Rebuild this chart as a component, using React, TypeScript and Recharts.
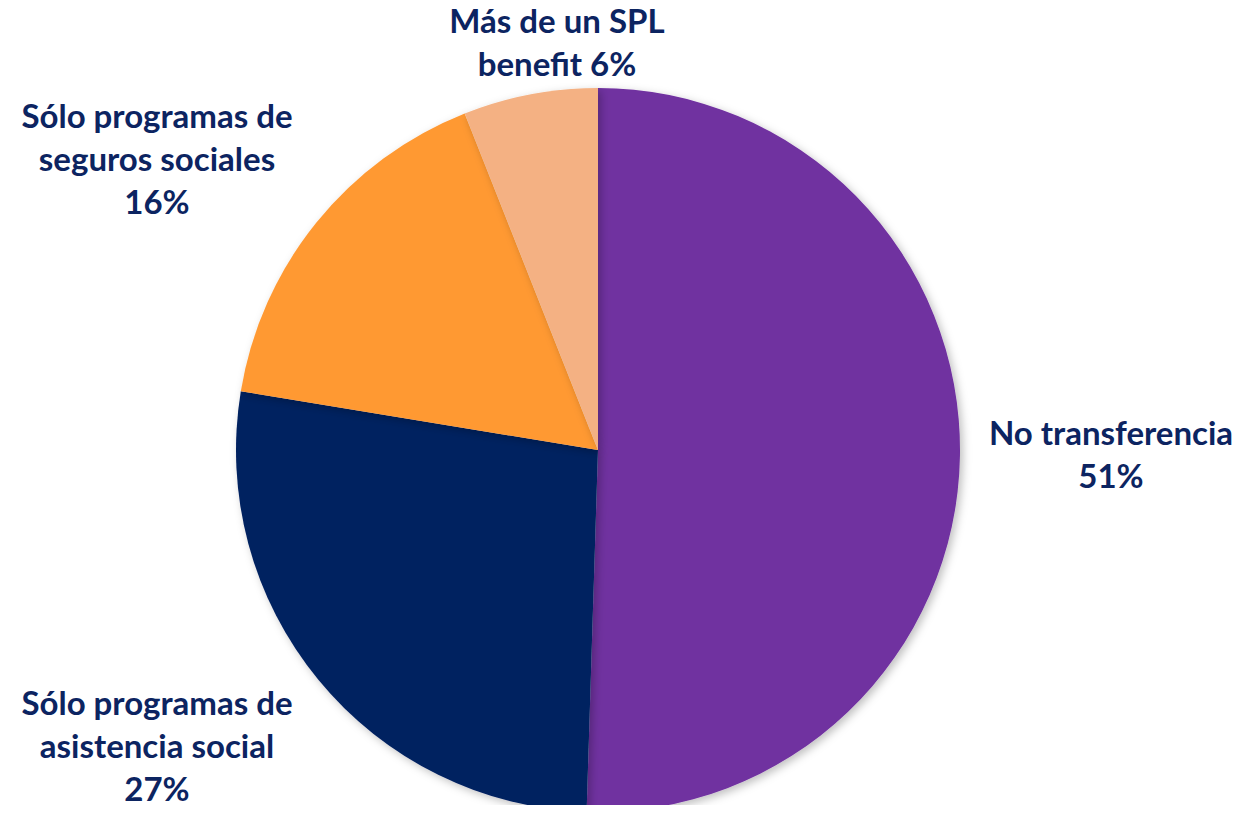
import { PieChart, Pie, Cell } from "recharts";

const categories = [
  "No transferencia",
  "Sólo programas de asistencia social",
  "Sólo programas de seguros sociales",
  "Más de un SPL benefit",
];
const shares = [50.5, 27.1, 16.4, 6.0];
const labelLines = [
  ["No transferencia", "51%"],
  ["Sólo programas de", "asistencia social", "27%"],
  ["Sólo programas de", "seguros sociales", "16%"],
  ["Más de un SPL", "benefit 6%"],
];
const colors = ["#7030A0", "#002060", "#FF9933", "#F4B183"];

// label placement relative to pie centre
const labelDx = [513, -441, -441, -41];
const labelDy = [-5, 265, -322, -417];

const data = categories.map((name, i) => ({ name, value: shares[i] }));

function renderLabel(props: any) {
  const { cx, cy, index } = props;
  const x = cx + labelDx[index];
  const y = cy + labelDy[index];
  return (
    <text
      x={x}
      y={y}
      textAnchor="middle"
      fill="#0C2461"
      fontFamily="Lato, 'Open Sans', sans-serif"
      fontWeight={700}
      fontSize={33}
    >
      {labelLines[index].map((line, j) => (
        <tspan key={j} x={x} dy={j === 0 ? 0 : 43}>
          {line}
        </tspan>
      ))}
    </text>
  );
}

export default function App() {
  return (
    <div style={{ background: "#fff", margin: -8, height: 813, overflow: "hidden" }}>
      <PieChart
        width={1259}
        height={813}
        margin={{ top: 0, right: 0, bottom: 0, left: 0 }}
        style={{ overflow: "visible" }}
      >
        <defs>
          <filter id="pieShadow" x="-30%" y="-30%" width="160%" height="160%">
            <feDropShadow dx="3" dy="3" stdDeviation="4" floodColor="#000" floodOpacity="0.25" />
          </filter>
        </defs>
        <Pie
          data={data}
          dataKey="value"
          nameKey="name"
          cx={598}
          cy={450}
          outerRadius={362}
          startAngle={90}
          endAngle={-270}
          stroke="none"
          label={renderLabel}
          labelLine={false}
          isAnimationActive={false}
          style={{ filter: "url(#pieShadow)" }}
        >
          {data.map((d, i) => (
            <Cell key={d.name} fill={colors[i]} />
          ))}
        </Pie>
      </PieChart>
    </div>
  );
}
